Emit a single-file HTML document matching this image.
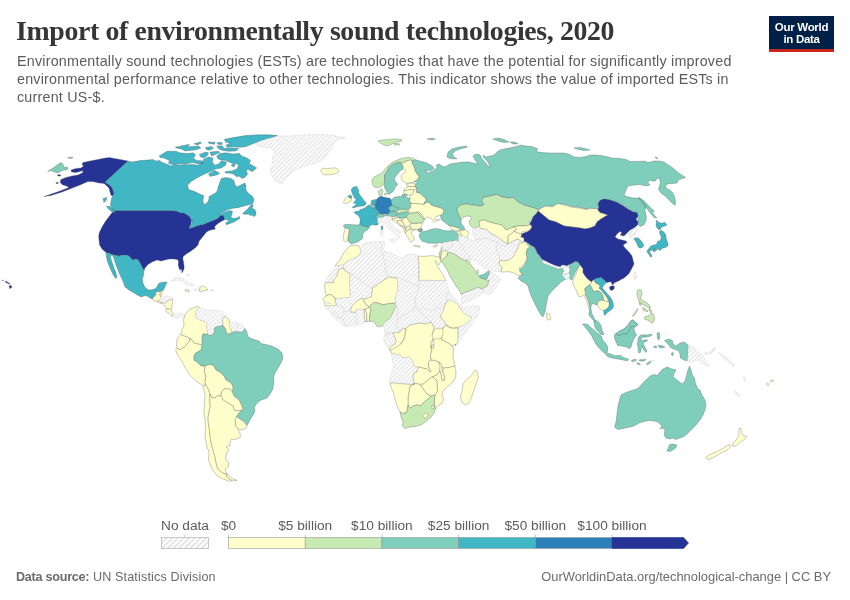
<!DOCTYPE html>
<html lang="en">
<head>
<meta charset="utf-8">
<title>Import of environmentally sound technologies, 2020</title>
<style>
html,body{margin:0;padding:0;background:#fff;}
body{width:850px;height:600px;position:relative;overflow:hidden;font-family:"Liberation Sans",sans-serif;}
#title{position:absolute;left:16px;top:15px;margin:0;font-family:"Liberation Serif",serif;font-weight:bold;font-size:27.8px;line-height:32px;color:#363636;white-space:nowrap;letter-spacing:-0.35px;}
#subtitle{position:absolute;left:17px;top:52px;margin:0;font-size:14.3px;line-height:18px;color:#5b5b5b;white-space:nowrap;letter-spacing:0.22px;}
#logo{position:absolute;left:769px;top:16px;width:65px;height:36px;background:#002147;border-bottom:0;box-sizing:border-box;color:#fff;text-align:center;font-weight:bold;font-size:11.5px;line-height:12px;padding-top:5px;letter-spacing:-0.3px;}
#logo:after{content:"";position:absolute;left:0;right:0;bottom:0;height:3px;background:#c8251d;}
#src{position:absolute;left:16px;top:568.5px;font-size:12.6px;line-height:16px;color:#6b6b6b;white-space:nowrap;letter-spacing:0.14px;}
#src b{font-weight:bold;letter-spacing:-0.25px;}
#url{position:absolute;right:19px;top:568.5px;font-size:12.9px;line-height:16px;color:#6b6b6b;white-space:nowrap;}
#map{position:absolute;left:0;top:0;}
#map text{font-family:"Liberation Sans",sans-serif;font-size:13.7px;fill:#5b5b5b;}
</style>
</head>
<body>
<h1 id="title">Import of environmentally sound technologies, 2020</h1>
<p id="subtitle">Environmentally sound technologies (ESTs) are technologies that have the potential for significantly improved<br>environmental performance relative to other technologies. This indicator shows the value of imported ESTs in<br>current US-$.</p>
<div id="logo">Our World<br>in Data</div>
<svg id="map" width="850" height="600" viewBox="0 0 850 600">
<defs><pattern id="hatch" patternUnits="userSpaceOnUse" width="8.9" height="8.9"><rect width="8.9" height="8.9" fill="#fff"/><path d="M-1,1L1,-1M-1,5.45L5.45,-1M-1,9.9L9.9,-1M3.45,9.9L9.9,3.45M7.9,9.9L9.9,7.9" stroke="#e5e5e5" stroke-width="1.4" fill="none"/></pattern><pattern id="hatch2" patternUnits="userSpaceOnUse" x="161.5" y="537.5" width="11.32" height="11.32"><rect width="11.32" height="11.32" fill="#fff"/><path d="M-1,1L1,-1M-1,6.66L6.66,-1M-1,12.32L12.32,-1M4.66,12.32L12.32,4.66M10.32,12.32L12.32,10.32" stroke="#dcdcdc" stroke-width="1.5" fill="none"/></pattern></defs>
<g stroke="#4a4a4a" stroke-width="0.3" stroke-linejoin="round">
<path aria-label="Russia" fill="#7fcdbb" d="M47.6,171.4L52.4,168.6L60.6,162.6L63,164L63.6,167L68,167.4L67.6,169.4L62,170.6L58,173L54.4,172L51,170.6ZM67.6,158L70,157L73,157.4L71,158.6ZM414.8,159.5L418,160.5L422,161.5L427,163L432,166L434.4,168.6L431,170.6L427.6,170.6L425,170L428,173L433,171L437,168L436.4,165L439,164L442,166L445,167L450,164L456,163L463,162L469,162L473,163L478,164L475,160L473,156L476,154L480,155L482,159L485,162L488,166L490,167.4L489,164L487,161L484,158L483,155L486,157L490,156L494,155L497,152L500,150L506,148.6L512,147.4L518,146L521,145L526,146L532,146.6L538,149L536,151.4L542,152.6L550,153L558,153L564,153L570,154.6L574,157L580,157.4L586,156.6L590,155L596,155L604,156L612,158L620,158.6L626,159.4L630,161.4L638,161.4L645,161L648,162.6L654,161L660,161L665,162.6L669,165.4L673,168L677,171.4L680,174L685.6,177.4L682,178.6L678,180L677,183L673,183.4L668,184L665.6,185L666,188L669,189.4L672,192L674,195L675,199L675.6,202L675,205.4L672,203L669,200L665,196L661,193L658.4,189L659.6,186L660.4,182L659,178.6L657,178L655.6,181L652,181L649,180L648,183L650,185L646,186L640,184.6L634,185L628,186L626,190L624,195L627,196.6L633,198L639,198L642.4,201L646,206L645,211L646.4,216L646,221L643.6,225L640,226.6L637.6,224L638,219L637,214L634,212L631,213L630,209L626,207L622,204L616,202L610,200L604,199.4L600,201L598,205L599,208L597.6,210.6L595,209L590,208L586,209L580,207.4L572,206.6L565,204.6L559,203.4L557,206.6L550,206L544,208L539.6,210.6L537,209L531,207L524,205L518,202L513,197.4L508,198L502,197L497,194.4L490,196L483,197.4L482,201L484,205L480,206L473,205L466,204L460,205L457,209L458,213L460,217L461,220L461.2,223.5L462.8,225.5L464.5,228L465,229.5L462.5,230.5L460.5,229.5L458,228L455,227L452,226.2L449,225.5L447.5,224.5L445.5,223L443,221L441,219.5L441,217.5L440,215.5L442,214.5L443.8,212L443,209L440.5,208L437,207L433.5,206L430.5,204.5L429.5,202.5L426.5,202.5L423.5,204.5L424,202.5L425.5,201.5L426.2,199.5L424.5,197.5L422,195L419,193L416.5,192.5L416.5,188.5L415,186.5L415.5,184L417,182.5L416,181.5L413.5,182L416,180.5L418,178.5L419,176.5L417,174L415,171L414.5,168.5L413.5,166L412.2,163L411.8,160.5L413.5,160.8ZM447,157L448,152L452,149L459,147L467,146L466.4,147.4L460,149L455,151L452.4,154L454,157L457,158.6L453,159L449,158ZM427,139L431,138.2L435.6,139L432,140ZM493,139L498,138L504,139.4L509,142L504,142.6L498,141ZM510,142L515,142L518,144L513,144ZM574,148L580,147.4L587,149L590,150L584,150.6L578,149.4ZM639,197.4L643,200L647,204L651,208L654.4,211.4L652,212L655,216L657,218L654,217.4L651,214L648,210L645,206L641.6,202ZM655,157L657,157.4L658,158.6L656,158.2ZM402,195.8L402.5,194.5L404,194L406,194L407.5,195.5L405.5,196.5Z"/>
<path aria-label="United States" fill="#253494" d="M128,161L120,159.4L109,157.6L104,158.2L98,159.4L90,161L83,162.6L82,164.6L83.6,166L81,168L76,168.4L71,170L71.6,172L76,172.6L80,171.4L82.4,170.6L83,172.6L78,175L72,176L66,177.4L61,179.4L60,182L62,184.6L67,186.2L69,187.4L60,191L50,194.6L44,196.6L51,195.4L62,192L71,188.6L80,185L88,181.4L94,181.8L99,183L104,183.4L107,186L109.2,188.6L110,192L111.2,195.4L113,195.4L114,194L113,190L111.6,187L109,184.6L105,182.2ZM56,182.6L58.4,182.4L58,183.6L56,183.6ZM58,174.6L61,175L60,176.2L57.6,175.8ZM114.4,210.6L172,210.6L178,211.6L184,213L189,216L191.6,220L191,224L189,228L193,227.5L198,225.5L203,224.5L208,222.5L213,220.5L217.5,218.5L220,216L223,215L224,217L224,220L221,221.5L218,223.5L215.5,225.5L214.5,227.5L215.5,229L212,229.8L209,230.5L206.5,232L204.5,234.5L202.5,237L200.5,239.5L199.2,241L198,245L195,248L191,251L187,253.6L183.6,256L183,257L182.8,259L183.5,261.8L183.9,264.7L184.2,267.5L183.7,269.6L182.8,271.8L181.8,272.8L181.1,272.1L179.6,269.6L178.6,266.8L178.2,264.3L178.6,261.9L177.9,259.8L174,259L169,259L165,260L161,261L157,260L152,262L148,264.4L145,268L144,270.4L142,267L140,263L138,259.6L135,259L132.4,260L130,257L127,255L123,255L119,256L114,255L109.6,253.6L106,252.4L102,249L99.6,245L99,240L98.6,236L99.6,232L102,227L105,222L108,218L111,214L113.6,211ZM9.2,285.8L10.5,285.2L12,286.5L11.2,288L9.5,288.5ZM5,281.2L6.5,281.5L8,282.5L9.8,283.5L9.5,284.2L7.5,283.2L5.5,282.2ZM2,280L3.5,280.2L3,280.8Z"/>
<path aria-label="Canada" fill="#41b6c4" d="M128,161L132,162L140,160.6L148,160L153,159.4L156,161L160,160.6L161,161.9L167.8,164.4L170.1,165.7L177.6,165L185.1,164.7L192.7,164.4L197.9,165.3L201.7,163.4L203.9,158.9L208.5,156.9L213,158.1L212.2,161.9L214.9,165.2L219,163.7L221.3,160.8L226.5,161.9L225.5,165.3L221.3,167.9L215.2,169L211.5,170.9L204.7,173.9L197.2,177.7L191.1,181.5L187.4,185.2L188.9,189.7L194.2,191.3L200.2,194.3L203.9,195.8L203.2,198L202.8,201.5L204.5,204.5L207,203L208.8,200L209,196.5L212,195L215.5,193L217.5,190.5L218,187.5L219.8,182.2L221.3,178.5L225.8,177.4L231.1,178.5L234.1,180.7L234.8,184.5L237.1,187L241.6,184.5L245.1,183L246.1,187.5L245,185L245.5,188L246.5,191L249,194L251.5,195.5L253.5,198L254,200.5L252.5,203.5L250,204.5L246,205.5L242,206.5L238,207.8L233,208.2L228,209.5L223,212L219,215.5L220.5,214.8L223,213L227,211.2L230.5,210.5L232.5,211.5L232,214L231,216.5L232,218L235,218.5L237.5,217.5L239.5,216.5L239.8,218.5L237.5,220L234,222L230,223.5L226.5,224.7L225.5,223.5L227,222L229,220.5L227,219.5L224,220L224,217L223,215L220,216L217.5,218.5L213,220.5L208,222.5L203,224.5L198,225.5L193,227.5L188.5,229L190.5,226L192.2,222.5L191.8,219.5L189.5,216.5L187,214.5L184,212.8L180,213L177,211L170,210.6L114.4,210.6L112,208L110.4,205L111,201L112,197L113,195.4L114,194L113,190L111.6,187L109,184.6L105,182.2ZM103,198.6L107,197.4L106,200.6L104,202.6ZM106.4,206L110,206.6L114,210L115,213L112,212L108,208.6ZM242.5,213.5L245,211.5L248,208.5L250.5,205.5L252.5,204L253,206L252,208L254.5,209.5L256,212L255.8,215L254,216.8L252.5,215L250,215.5L249,214L246,214.3L244,214.2ZM159.2,155.9L167,151.3L176.1,151.3L179.8,152.8L187.4,153.6L193.4,152.8L195.7,155.1L193.4,158.1L196.4,160.4L201.7,160.8L203.2,163.4L198.7,164.1L192.7,162.6L185.1,164.1L179.1,163.8L174.6,164.9L168.6,163.4L169.3,160.4L164,158.1L160.3,157.4ZM175.3,147.3L182.1,145.8L189.6,144.3L187.4,146.8L192.7,146.4L198.7,146.1L200.9,148.3L195.7,149.8L189.6,150.6L185.1,150.9L181.4,149.1L176.1,147.9ZM193.9,143.8L200.2,142L201.7,143.1L197.2,144.9ZM207.7,141.9L215.2,142.3L214.5,144.3L209.2,143.5ZM205.5,147.6L211.5,146.4L213.7,148.3L209.2,150.3L206.2,149.4ZM216.7,142.8L221.3,142.3L222.8,144.3L218.3,144.6ZM224.3,139.3L234.8,137.3L245.4,135.5L257.4,134.8L269.5,134.8L277.7,135.5L271,137.8L263.4,140L257.4,141.9L252.9,143.8L245.4,146.8L239.3,147.3L233.3,146.8L227.3,147.3L225.8,145.3L230.3,143.1L225.8,142.3ZM216.7,146.1L222,145.8L224.3,148.3L230.3,147.9L238.6,148.3L236.3,150.9L228.8,151.3L222.8,150.6L219,149.1ZM216.7,155.9L219.8,153.6L225.8,152.8L233.3,153.9L239.3,153.3L241.6,155.9L246.9,158.1L250.6,160.4L249.1,163.4L252.9,165.7L256.7,167.9L252.1,171.7L248.4,169.4L246.1,170.2L247.6,173.9L245.4,176.9L242.3,178.5L239.3,176.2L236.3,176.5L233.3,173.9L230.3,173.2L225,172.9L225.8,171.4L231.8,170.9L237.1,168.7L238.6,165.7L236.3,163.4L232.6,163.4L228.8,161.9L225.8,160.4L221.3,159.9L218,158.9ZM199.4,154.4L205.5,152.1L208.5,152.8L207,155.9L203.2,158.1L200.2,156.6ZM210,152.1L218.3,151.3L219.8,152.4L214.5,154.8L211.5,155.9ZM208.5,173.9L214.5,170.2L219.8,173.2L216.7,175L212.2,175.9L210,176.5ZM231.1,165.3L234.1,163.8L235.6,165.3L233.3,166.9Z"/>
<path aria-label="Mexico" fill="#41b6c4" d="M106,252.4L109.6,253.6L114,255L119,256L123,255L127,255L130,257L132.4,260L135,259L138,259.6L140,263L142,267L144,270.4L143.6,275L142.2,279L143,283L144.5,286.5L146.5,288.8L149,290L152,289.8L155,288.8L157,287L158,284.5L159.5,283L162.5,282.2L167,282L166.2,284L165,286.5L164,289L162.8,290.2L161.8,291L160.5,291.5L159.5,291.5L156.5,292L155,293L156.2,294.5L155,295.5L153.5,297.5L152.2,299L150,298L148,296.5L145,295.5L142,296.8L140,296.5L134,293L129,290L125,287L123.6,283L122,279L120,275L118,270L116,265L114.4,260L113,256L111,255L110.4,257L111.6,261L113,265L114.4,269L116,273L117,277L115.6,278.4L113.6,275.6L111.6,271.6L109.6,267L107.6,262L106.4,257Z"/>
<path aria-label="Belize" fill="#ffffcc" d="M162.8,290.2L161.8,291L160.5,291.5L160,293.5L159.8,295.5L160.5,296.5L161.5,295L162.2,293L162.8,291.5Z"/>
<path aria-label="Guatemala" fill="#ffffcc" d="M155,293L156.5,292L159.5,291.5L160,293.5L159.8,295.5L160.5,296.5L161.5,297.2L160,299.2L159,300.8L157.2,301.5L155,301.2L153,300L152.2,299L153.5,297.5L155,295.5L156.2,294.5Z"/>
<path aria-label="Honduras" fill="url(#hatch)" stroke="#c4c4c4" d="M161.5,297.2L164,296.2L168,296L171.5,297.2L172.8,299L170,300L168,301.2L166,302.5L164.5,304L163,303.5L162.5,302.2L160.5,302.5L159,300.8L160,299.2Z"/>
<path aria-label="El Salvador" fill="#ffffcc" d="M157.2,301.5L159,300.8L160.5,302.5L162.5,302.2L163,303.5L161.5,303.8L159.5,303L158,302.2Z"/>
<path aria-label="Nicaragua" fill="#ffffcc" d="M164.5,304L166,302.5L168,301.2L170,300L172.8,299L172.5,302L172,305L171.8,308L171,309.5L168.5,309L166.5,308.7L165,306.5L163.5,305Z"/>
<path aria-label="Costa Rica" fill="#ffffcc" d="M166.5,308.7L168.5,309L171,309.5L171.8,311.5L172.8,313.5L172.8,316L171.5,316.5L170.5,314.5L169,313L167,312.2L165.8,310.5Z"/>
<path aria-label="Panama" fill="url(#hatch)" stroke="#c4c4c4" d="M172.8,313.5L174.5,314.5L177,314L180,312.8L182.5,313.2L184.8,315L184.5,317L183.5,318.5L182.5,316.8L180.5,316L178.5,317.5L177.2,319L175.5,318.2L174,317L172.8,316Z"/>
<path aria-label="Cuba" fill="url(#hatch)" stroke="#c4c4c4" d="M171.2,280L174,278L178,277.2L182,278L185,280L188,282L191,283.5L194.5,284.8L194,285.8L191,285.8L188,285.5L187,284L184,282.5L181,281L178,280L174.5,280.5L172,281.2Z"/>
<path aria-label="Jamaica" fill="#ffffcc" d="M184.8,290L186.5,289.2L189,290L189.8,291.2L188,291.8L185.8,291.2Z"/>
<path aria-label="Haiti" fill="url(#hatch)" stroke="#c4c4c4" d="M194,289L197,288.8L199.8,287.5L199.8,291.5L197,291L194.5,290.8Z"/>
<path aria-label="Dominican Republic" fill="#ffffcc" d="M199.8,287.5L202.5,285.8L205,287L207,288.8L208,290L205.5,290.5L203,290.8L200.5,292L199.8,291.5Z"/>
<path aria-label="Puerto Rico" fill="url(#hatch)" stroke="#c4c4c4" d="M210,289.5L213.5,289.5L213.8,291L210.2,291Z"/>
<path aria-label="Bahamas" fill="url(#hatch)" stroke="#c4c4c4" d="M187,275L189,274.5L189.5,276L187.8,276.2ZM180,271L181,269L182,271.5L180.8,272.5Z"/>
<path aria-label="Greenland" fill="url(#hatch)" stroke="#c4c4c4" d="M255,144.1L257.4,142.4L262.1,140.6L267.9,138.8L277.4,136.5L287.9,135.9L298.5,135.3L307.9,134.7L318.5,134.5L327.9,134.7L333.8,135.6L339.7,136.8L345.6,137.6L342.1,138.8L337.4,139.6L335,141.8L333.2,144.7L332.6,147.6L330.3,150.6L327.4,153.5L325.6,157.1L322.1,159.4L319.1,161.8L315,163.5L310.3,164.7L305.6,165.9L300.9,167.6L296.2,169.4L292.6,171.2L289.7,174.1L286.8,177.6L284.4,181.2L282.1,183.5L278.5,182.4L275,180.6L272.6,177.1L271.5,173.5L270.3,170L270.9,166.5L272.6,163.5L272.1,160L272.6,156.5L274.4,153.5L273.2,150.6L271.5,148.2L266.8,147.6L262.1,147.1L257.4,145.9Z"/>
<path aria-label="Iceland" fill="#ffffcc" d="M320.9,170L322.6,168.2L326.8,168.8L330.3,168.2L335,167.9L338.3,169.4L338.8,171.4L336.2,173.3L332.6,174.5L327.9,174.9L323.8,174.5L321.8,172.6Z"/>
<path aria-label="Colombia" fill="#ffffcc" d="M185,315L189,309.6L194,307.6L198,306L199.6,307.6L197,310L195.6,313.6L196.4,318L200,320L205,321.6L207,324L206.6,328L207.6,331.6L208,334.4L203,334L202,338L202.4,343L201.6,345.6L200,344.4L197,344L194,343L191,339L187,337L183,335.6L181,334.4L182,330L184,325L183.6,320L184.4,317Z"/>
<path aria-label="Venezuela" fill="url(#hatch)" stroke="#c4c4c4" d="M199.6,307.6L204,309L210,310.4L217,310L222.4,311L225,316L222.4,319.6L223,323L223,325.6L220,326L216,327L214.4,328L214.4,332L212,335L209,335.6L208,334.4L207.6,331.6L206.6,328L207,324L205,321.6L200,320L196.4,318L195.6,313.6L197,310Z"/>
<path aria-label="Guyana" fill="#ffffcc" d="M225,316L228,319L230,322L229.6,325L231.6,330L232,333L228,334.4L226,332L225,328.4L223,325.6L223,323L222.4,319.6Z"/>
<path aria-label="Suriname" fill="url(#hatch)" stroke="#c4c4c4" d="M230,322L234,322.4L238,323L237.6,327L236,331.6L233,332L231.6,330L229.6,325Z"/>
<path aria-label="French Guiana" fill="url(#hatch)" stroke="#c4c4c4" d="M238,323L242,325L245,328.4L242.4,332L239,332L236,331.6L237.6,327Z"/>
<path aria-label="Brazil" fill="#7fcdbb" d="M214.4,328L216,327L220,326L223,325.6L225,328.4L226,332L228,334.4L232,333L233,332L236,331.6L239,332L242.4,332L245,328.4L247,332L247.6,336L250,338L254,339.6L259,341L261,343.6L266,344.4L272,346L278,349L282,353L283,358L281,363L278,368L275,373L273.6,377L274,382L273,388L272.4,390L270,394L267,398L261,400L257,403L254.4,407L255,411L253,415L250,420L247,425.6L244.4,422L240,419L236.4,416.4L239,413L242,410L243,409L241,404L239,400L234,396L232.4,392L233,387L231,383L226,380L224,376L221,373L216,370L213,365L209,364.4L205,366L201,366L198,363L194,360L193.6,357L195,353.6L198,351.6L201,350L202,346L201.6,345.6L202.4,343L202,338L203,334L208,334.4L209,335.6L212,335L214.4,332Z"/>
<path aria-label="Ecuador" fill="#ffffcc" d="M181,334.4L183,335.6L187,337L190,339L189,342L186,345L183,348L180,350L177,348L176.4,344L177,340L178,337Z"/>
<path aria-label="Peru" fill="#ffffcc" d="M177,348L180,350L183,348L186,345L189,342L190,339L191,339L194,343L197,344L200,344.4L201.6,345.6L202,346L201,350L198,351.6L195,353.6L193.6,357L194,360L198,363L201,366L205,366L204.4,371L206,376L205,381L205.6,385L203,385.6L199,383L194,379L189,374L185,367L181,360L177,354L175.6,350Z"/>
<path aria-label="Bolivia" fill="#ffffcc" d="M205,366L209,364.4L213,365L216,370L221,373L224,376L226,380L231,383L233,387L232.4,392L230,389L224,389L221.6,392L221,396L218,395.6L215,397.6L212,398L210,394L208,389L205.6,385L205,381L206,376L204.4,371Z"/>
<path aria-label="Paraguay" fill="#ffffcc" d="M221.6,392L224,389L230,389L232.4,392L234,396L239,400L241,404L243,409L242,410L239,411L234,410L233,406L228,403L223,400L221,396Z"/>
<path aria-label="Uruguay" fill="#ffffcc" d="M236.4,416.4L240,419L244.4,422L247,425.6L245.6,428.4L242,429.6L238,429L235.6,426L235,421Z"/>
<path aria-label="Chile" fill="#ffffcc" d="M203,385.6L205.6,385L208,389L210,394L209.6,400L210.4,406L209,412L208,418L208.4,424L209.6,430L210,436L211,442L212.4,448L213.6,452L215,457L216,462L217,467L219,470L222,472.4L226.6,474L226.6,476L228.4,478.4L232,480.4L230,481.6L224,479.4L218,476.4L215,473L212,469L210,464L208.4,459L209,454L208.4,450L207,448L206,442L205,436L205.6,428L205,420L204,412L204.4,404L205,396L204,390L203.6,388Z"/>
<path aria-label="Argentina" fill="#ffffcc" d="M210,394L212,398L215,397.6L218,395.6L221,396L223,400L228,403L233,406L234,410L239,411L242,410L239,413L236.4,416.4L235,421L235.6,426L238,429L240,433L240.4,437L237,439L231,439.6L230,443L229.6,446L226,447L229,449.6L227,453L225.6,457L226,460L229,463L228,467L225,469L226,472L226.6,474L222,472.4L219,470L217,467L216,462L215,457L213.6,452L212.4,448L211,442L210,436L209.6,430L208.4,424L208,418L209,412L210.4,406L209.6,400ZM226.6,474L228,474L230,477L233.6,479L237,480.4L232,480.4L228.4,478.4L226.6,476Z"/>
<path aria-label="Norway" fill="#c7e9b4" d="M372,179.5L374,177L378,175L382,173L384,170.5L386,168L389,165L392,162.5L396,160.5L400,159L404,157.8L409,157.5L413,158.2L414.8,159.5L413.5,160.8L411.8,160.5L410,160L407,161L404,162.5L401,163L398.5,162.2L397,162.8L394,164L391,165.5L389,167.5L387.5,170.5L386,173L384.5,175L384.5,178.5L385,181L384,184L382.5,185.5L380,187L377,187.8L374.5,187.2L372.5,184.5L372,182ZM378,141L383,140L390,139.4L396,139L401.6,139.4L401,141.4L396,142L392,144L388,146L384,145L381,143.4ZM394,143.6L399,143.4L399.6,145L395,145.2Z"/>
<path aria-label="Sweden" fill="#7fcdbb" d="M397,162.8L398.5,162.2L401,163L402.5,165L403.2,167.5L402.8,169.5L400.5,170.5L398,173.5L396,176L394.5,178.5L394.8,181L397,183L397.5,185L395.5,186.5L394.5,189L393,191.5L391,193L389,194.5L387.8,193.8L387,192L385.5,189.5L384.5,187L384,184L385,181L384.5,178.5L384.5,175L386,173L387.5,170.5L389,167.5L391,165.5L394,164Z"/>
<path aria-label="Finland" fill="#ffffcc" d="M404,162.5L407,161L410,160L411.8,160.5L412.2,163L413.5,166L414.5,168.5L415,171L417,174L419,176.5L418,178.5L416,180.5L413.5,182L410,183L406.5,183.2L404,182L402,180L401,177.5L401.5,175L404,173L406,171L405,169.5L403.2,167.5L402.5,165L401,163Z"/>
<path aria-label="Denmark" fill="#c7e9b4" d="M378.5,191L380,189.5L382,189L382.8,190L382.5,192.5L382,195L380.5,196L379,195L378.5,193ZM384.5,193.5L386.2,193L386.8,194.5L385.5,195.5L384.5,194.8Z"/>
<path aria-label="Estonia" fill="#ffffcc" d="M406.5,184L410,183.5L413.5,183L415.5,184L415,186.5L412,186.5L409,186.2L406.8,185.8Z"/>
<path aria-label="Latvia" fill="#ffffcc" d="M404,189.5L406.5,187.5L409,186.5L412,186.5L415,186.5L416.5,188.5L414.5,190L411.5,189.5L409,190L406,190.5L404,191Z"/>
<path aria-label="Lithuania" fill="#ffffcc" d="M403.5,192.5L404,191L406,190.5L409,190L411.5,189.5L414.5,190L413.5,192.5L412,194.5L410,195.5L408,195L406,194L404,194Z"/>
<path aria-label="Ireland" fill="#ffffcc" d="M343.5,202.5L344.5,199.5L347,197L348.5,195.8L348.8,197.2L350,198.2L351.5,197.8L351.5,200L350.5,201.8L348,202.8L345.5,203.5Z"/>
<path aria-label="United Kingdom" fill="#41b6c4" d="M348.5,195.8L350.5,195L351.8,196L351.5,197.8L350,198.2L348.8,197.2ZM353.5,187L356.5,186.5L358,187.8L357,189.2L359,190L358.5,192.5L359.5,194.5L361.5,197L363.2,199.5L365,201.5L366.2,203L365.5,204.8L363.5,206L360,206.2L357,206.8L354,207.8L352,207.5L354,206L356.5,204.8L355,203.5L353.5,202.8L355,201.2L356,199.5L354.5,198L353.5,196L352.5,194L351.8,192L351.2,190L352,188.2Z"/>
<path aria-label="France" fill="#41b6c4" d="M354,212.2L356.5,211.2L359.5,211L360,209.5L362.5,209L365,207.8L367.2,206L368.5,205.5L370,206.5L372.2,207.8L374.5,208.5L376,209L378.2,210.5L379,212.5L378.2,214.5L376.5,215.5L375.8,217L377,218.5L378,220L377.5,222L378.8,223.5L377.5,225L375,225.2L373,224.5L371,225L369.5,226.5L368,227.2L365,226.5L362,225.8L359.5,225L360,222L360.2,219L359,216.5L357,214.5L355,213.5ZM381,226.5L382.5,225.8L383,228L382.5,229.8L381.2,229.5Z"/>
<path aria-label="Belgium" fill="#7fcdbb" d="M368.5,205.5L370,204.8L372.2,204.2L374.5,205L375.5,206.5L375,208.2L374.5,208.5L372.2,207.8L370,206.5Z"/>
<path aria-label="Netherlands" fill="#41b6c4" d="M371,201L373,200L376.2,199.5L376.5,201L376,203L375,205L374.5,205L372.2,204.2L370.8,204L371.5,202.5Z"/>
<path aria-label="Germany" fill="#2c7fb8" d="M376.5,199.5L379,197L381.5,196.2L384,197.2L387,197.8L390,198.2L391,200L391.5,202.5L392,205L390.5,206.5L388,207.8L389.5,209.5L390,211L389,213.5L386,214L383,214.2L380.5,213.8L379,213.5L379,212.5L378.2,210.5L376,209L375,208.2L375.5,206.5L375,205L376,203L376.5,201Z"/>
<path aria-label="Luxembourg" fill="#ffffcc" d="M374.5,208L375.3,207.8L375.6,208.8L374.8,209Z"/>
<path aria-label="Switzerland" fill="#7fcdbb" d="M375.8,215.8L377.5,215L379,213.8L380.5,214L383,214.5L384.2,215.5L383.5,217L381.5,217.8L379.5,217.5L378,218.5L377,218.5L376,217.2Z"/>
<path aria-label="Austria" fill="#7fcdbb" d="M384.2,215.5L386,214.2L389,213.8L390,211.2L393,211L396,211.8L397.5,213.5L396.8,215.5L394.5,216.5L391.5,216.8L389,216.2L386.5,216.2L384.5,216.2Z"/>
<path aria-label="Czechia" fill="#7fcdbb" d="M388,207.8L390.5,206.5L392,205.2L394,206.2L396.5,207.2L399.5,208.2L399,209.5L397,210.5L396,211.8L393,211L390,211L389.5,209.5Z"/>
<path aria-label="Poland" fill="#7fcdbb" d="M391,200L394,197.5L398,196.5L402,196.2L405,197L410,198.5L410.2,201L411.2,203.5L411.5,206L410,208.5L406.5,209.5L404,209.2L401.5,209.5L399.5,208.2L396.5,207.2L394,206.2L392,205.2L391.5,202.5Z"/>
<path aria-label="Slovakia" fill="#c7e9b4" d="M397,210.5L399,209.5L401.5,209.5L404,209.2L406.5,209.5L408.5,210.5L407.5,212L405,212.2L402,212.8L399.5,213.5L397.5,213.5L396,211.8Z"/>
<path aria-label="Hungary" fill="#7fcdbb" d="M397.5,213.5L399.5,213.5L402,212.8L405,212.2L407.5,212L409,213.2L408.5,215.2L406.5,217L404,218L401,218.5L398.5,217.5L396.8,215.8Z"/>
<path aria-label="Slovenia" fill="#ffffcc" d="M391.5,217L394.5,216.5L396.5,216.2L396,218L394,219L392,218.8Z"/>
<path aria-label="Croatia" fill="#ffffcc" d="M392,219L394,219L396,218L398.5,217.8L401,218.8L402.5,220L401.5,221L399,220.5L397,220.8L398,222.5L400,224.5L402,226.5L400.5,226.2L398,224.5L396,222.5L394.5,221L392.5,220.5Z"/>
<path aria-label="Bosnia and Herzegovina" fill="#ffffcc" d="M397,220.8L399,220.5L401.5,221L403,222L404,224L403,225.8L401.8,226.2L400,224.5L398,222.5Z"/>
<path aria-label="Serbia" fill="#ffffcc" d="M402.5,220L404,218.2L406.5,217.2L408,219L409.5,221L410.5,223L409.5,225L408.5,226.5L406.5,227L405,225.5L404,224L403,222L401.5,221Z"/>
<path aria-label="Montenegro" fill="#ffffcc" d="M401.8,226.2L403,225.8L404.5,226.5L404,228.5L402.8,228Z"/>
<path aria-label="Kosovo" fill="#ffffcc" d="M404.5,226.5L405,225.8L406.5,227L406,228.5L404.8,228L404,228.5Z"/>
<path aria-label="Albania" fill="#ffffcc" d="M404,228.5L404.8,228L406,229L406.2,231L405.5,233L404.2,232L403.8,230Z"/>
<path aria-label="North Macedonia" fill="#ffffcc" d="M406,228.5L406.5,227L408.5,226.8L410.5,227.5L410.2,229.5L408,230.2L406.2,230.5Z"/>
<path aria-label="Greece" fill="#ffffcc" d="M405.5,233.2L406.2,231L408,230.2L410.2,229.5L413,229L415.5,228.5L418,228.8L419,229.5L417,230L415,230L412.5,231L411,232L411.5,234L413,236L414.5,238L414,240L412.5,240.5L411.5,242.5L410,241.5L409,239L407.5,237L406.2,235ZM414,245L417,245.5L420,246.2L420,247L416.5,246.8L414,246Z"/>
<path aria-label="Italy" fill="url(#hatch)" stroke="#c4c4c4" d="M378,220L377,218.5L378,218.5L379.5,217.5L381.5,217.8L383.5,217L384.5,216.2L386.5,216.2L389,216.2L391.5,216.8L392,218.8L390.5,219.5L389.5,221L390.5,223L392.5,225.5L394.5,227.5L397,229.5L400,231L401.5,232.5L400.5,233.5L399,232.8L398,234L399.5,236L399,238L397.5,239.5L396.5,238L397,236L395.5,234L393.5,232.5L391,230.5L388.5,228.5L386.5,226L385,223.5L383,222L380.5,221.8L378.8,223.5L377.5,222ZM389.5,239.5L392,239L395,238.2L396,240L395,242L393,242.5L390.5,241ZM380.5,231L382.5,230.5L383,233L382.8,235.5L381,236L380.5,233.5Z"/>
<path aria-label="Spain" fill="#7fcdbb" d="M343.5,225.2L346,224.2L350,224.5L354,224.8L359.5,225L362,225.8L365,226.5L368,227.2L369.5,227.8L368,229.5L365.5,231L363.5,233L362.5,235.5L363,237.5L361.5,239.5L359,241L356.5,242.5L354,243L351.5,244L350,243L348.5,241.5L347.8,239L348.2,236L348.8,233L349.2,230L348,228.5L345,228L343.8,226.8Z"/>
<path aria-label="Portugal" fill="#ffffcc" d="M345,228L348,228.5L349.2,230L348.8,233L348.2,236L347.8,239L347.5,241L345,241.5L343.5,240.5L343.8,238L343,235.5L344,233L344.8,230.5Z"/>
<path aria-label="Belarus" fill="#ffffcc" d="M410,198.5L410,195.5L412,194.5L413.5,192.5L414.5,190L416.5,188.5L416.5,192.5L419,193L422,195L424.5,197.5L426.2,199.5L425.5,201.5L424,202.5L423.5,204.5L420,204L416,203.5L411.5,203.5L409.5,201Z"/>
<path aria-label="Ukraine" fill="#ffffcc" d="M411.5,203.5L416,203.5L420,204L423.5,204.5L426.5,202.5L429.5,202.5L430.5,204.5L433.5,206L437,207L440.5,208L443,209L443.8,212L442,214.5L440,215.5L438,216L435.5,216.8L434.5,218L435,219.2L437.5,219.6L439.8,219.8L438,220.5L436,221.2L434.5,222L433,221L432,219L430,217.8L428,217L426.2,217.8L425,219.2L424.5,219L423.5,217.8L422.5,215.5L420.5,213.5L418.5,212L416.5,212.2L414,213L411,212.8L408.8,212L408.5,210L409.8,208.5L410.8,206.5L410.5,205Z"/>
<path aria-label="Moldova" fill="#ffffcc" d="M418.5,212L420.5,213.5L422.5,215.5L423.5,217.8L424.5,219L423,219.2L421.8,217.5L420.5,215.5L419,214L417.5,212.5Z"/>
<path aria-label="Romania" fill="#c7e9b4" d="M408.5,214L411,213L414,213.2L416.5,212.2L417.5,212.5L419,214L420.5,215.5L421.8,217.5L423,219.2L424.5,219.2L424,221L422.5,222.5L420,223L417,223.2L414,223.5L411.5,223L409.5,221.5L408,219.5L406.5,217.5L407,215.5Z"/>
<path aria-label="Bulgaria" fill="#ffffcc" d="M411,223.5L414,223.7L417,223.4L420,223.2L422.5,222.8L422,225L421,227L421.5,228.5L419,229L416.5,229.5L414,229L412,229.5L410.8,227.5L410.5,225.5Z"/>
<path aria-label="Turkey" fill="#7fcdbb" d="M419,229.2L421.5,228.7L422.5,230L421.5,231.5L419.5,232L418.5,230.8ZM419.5,234L421,232.5L424,231.5L428,230.5L432,229L436,228.5L440,229.2L444,230.5L448,231L451.5,230.2L455,231.5L457,232.5L458,234.5L458.5,237L459,239.5L458.5,241L456,240.5L453,241L450,241.5L447,242L444,242.5L441.5,243.5L440.5,242.5L438,243L435,243.5L432,243L429,243.5L427,242.5L425,242L423,241.5L421,240L420,238L419.2,236ZM418.5,230L420,228.8L422,229.2L422.5,230.8L421,231.8L419,232Z"/>
<path aria-label="Georgia" fill="#ffffcc" d="M449,225.5L452,226.2L455,227L458,228L460.5,229.5L460,231L457.5,231L455,230.5L452.5,229.5L450.5,228Z"/>
<path aria-label="Armenia" fill="#ffffcc" d="M456,231L457.5,231L458.5,231.2L460.5,233L461.5,235L460,235.5L458,234L456.5,232.5Z"/>
<path aria-label="Azerbaijan" fill="#ffffcc" d="M460,231L462.5,230.5L465,229.5L467,231L469,232.5L468,234.5L467,238L465,237L463,236L461.5,235L460.5,233L458.5,231.2Z"/>
<path aria-label="Kazakhstan" fill="#c7e9b4" d="M457,209L460,205L466,204L473,205L480,206L484,205L482,201L483,197.4L490,196L497,194.4L502,197L508,198L513,197.4L518,202L524,205L531,207L537,209L539.6,210.6L538,214L533,216L532,220L529,221L530,225L525,226L518,226L513,227L509,229L506,230L502,225L497,224L493,223L489,222L484,220L479,220.6L480,225L477,228L473,228L470,225L469,221L471.6,219L471,216.6L467,216L463,217.4L461,220L460,217L458,213Z"/>
<path aria-label="Mongolia" fill="#ffffcc" d="M538,211L541,208L546,206L552,207L558,203.6L564,205L571,207L578,208L586,209.6L593,208.4L598,209L598,210L600,212.4L604,213.6L608,215L606,216L601,219L597,222L595,226L590,228L585,229L580,228L572,227L564,226L556,222L549,220L543,215Z"/>
<path aria-label="China" fill="#253494" d="M538,211L543,215L549,220L556,222L564,226L572,227L580,228L585,229L590,228L595,226L597,222L601,219L606,216L608,215L604,213.6L600,212.4L598,210L599,207L598,204L600,200.4L604,199L610,200L616,202L622,205L628,209L633,212L637,212.4L638,216L636,219L638,222L637.6,225L634,228L630,230L627,233L624,236L620,235L622,233L620,231.6L617,234L615,237L618,239L622,240L626,241L627,242.4L623,245L625,248L629,252L632,256L633,260L634,264L631,270L629,273.5L626.5,276L624,278L621,279.5L618.5,281L616,282L614,283L613,285L612,284L611,281.8L609,282L607,282.5L605.5,281.5L603.5,279.5L601,277.5L598.5,278L596,278.5L594.5,279.5L593,280L592,282L590,281L587.5,279L585,276L583,273L583,269L580,265L578,262L575,261.6L572,263.6L569,264.4L567,266L562,265L560,267L556,266L551,264L547,262L543,260L541,258L539,255L537,253L536,250L534,247L531,245.6L528,243L524,241L521.6,238L521,235L523.6,233L527,232L530,230L531,227L530,223L532,220L533,217L536,214ZM609.5,287L611,286L613,285.8L614.5,286.5L614.2,288.5L612.8,290L611,290.5L609.8,289.2Z"/>
<path aria-label="India" fill="#7fcdbb" d="M525,246.4L528,243L531,245.6L534,247L536,250L537,253L539,255L541,258L543,260L542,262.4L547,264.4L551,266L556,268L560,269L562,268L564,271L562,273L565,274.4L569,273L570,270L569,267L569,264.4L572,263.6L575,261.6L578,262L580,265L578,268L576,271L574.4,274L573,277L572,280L570,279L568,276L567,278.4L564,280L561,282L559,284L555,288L551,292L548,296L547,301L546,306L545,312L543,317L541,315L538,310L535,304L532,298L529.6,292L528,286L525,283L521,281L518,278L520,276L523,274.4L519,272.4L520,269L523,267L525,264L527,260L526,256L525.6,252L527,249Z"/>
<path aria-label="Nepal" fill="url(#hatch)" stroke="#c4c4c4" d="M543,260L547,262L551,264L556,266L560,267L560,269L556,268L551,266L547,264.4L542,262.4Z"/>
<path aria-label="Bhutan" fill="url(#hatch)" stroke="#c4c4c4" d="M562,265L567,266L568,267.6L565,268.4L562,268Z"/>
<path aria-label="Bangladesh" fill="url(#hatch)" stroke="#c4c4c4" d="M562,273L565,274.4L569,273L569.6,276L569,279L567,280L565,278.4L563,276Z"/>
<path aria-label="Sri Lanka" fill="#ffffcc" d="M546.4,313L549,314L551,318L550,320L547.6,319.6L546.4,316Z"/>
<path aria-label="Iran" fill="url(#hatch)" stroke="#c4c4c4" d="M458.4,237L463,236L467,238L472.4,240L476,240L480,239L486,238L491,240L497,242L496,246L497,250L499,255L500,260L499,264L502,267L501,272L497,271.5L494,271L491,271.5L489,270L487,269L484,268L481,266L479,264L477,262L475,260.5L473,260L471,259.5L469.5,257.5L468,255.5L466,253L464,250.5L462.5,248L461,245.5L459.5,243L458.5,241Z"/>
<path aria-label="Turkmenistan" fill="url(#hatch)" stroke="#c4c4c4" d="M473,227L477,230L480,228.4L486,229L489,232L494,235L499,238L504,242L508,244L505,246L500,245L497,242L491,240L486,238L480,239L476,240L474,236L472.4,232Z"/>
<path aria-label="Afghanistan" fill="url(#hatch)" stroke="#c4c4c4" d="M497,242L500,245L505,246L508,244L511,242L515,240L518,239L521,241L524,242L519,244L518,248L516,252L513,257L509,260L504,261L500,260L499,255L497,250L496,246Z"/>
<path aria-label="Uzbekistan" fill="#ffffcc" d="M479,221L484,220L489,222L493,223L497,224L502,225L506,230L509,229L513,227L518,226L517,229L514,231L511,234L508,236L508,240L508,244L504,242L499,238L494,235L489,232L486,229L480,228.4L479.6,225Z"/>
<path aria-label="Tajikistan" fill="#ffffcc" d="M508,236L511,234L514,231L518,233L522,234L521,237L524,238L524,242L521,241L518,239L515,240L511,242L508,244L508,240Z"/>
<path aria-label="Kyrgyzstan" fill="#ffffcc" d="M513,227L518,226L525,226L530,225L532,226L531,229L527,231L522,232L521,237L522,234L518,233L514,231L517,229Z"/>
<path aria-label="Pakistan" fill="#ffffcc" d="M500,260L504,261L509,260L513,257L516,252L518,248L519,244L524,242L527,244L530,246.4L527,249L526,253L527,258L525,263L522,266L519,268L520,272L523,274L518,275.6L514,273L509,271.6L504,272L501,272L502,267L499,264Z"/>
<path aria-label="Yemen" fill="url(#hatch)" stroke="#c4c4c4" d="M461,294L466,292L472,290L478,287L482,289L484,292L480,295L476,298L471,300.4L466,302.4L462.4,304L461,300Z"/>
<path aria-label="Oman" fill="url(#hatch)" stroke="#c4c4c4" d="M489,280L489.6,276L489.4,272L491,272.4L494,273.4L497,275.4L499.6,277.6L500.4,280.4L498.4,283.6L496.4,287L493.6,290L491,293L488,295L484,292L482,289L487,286L488,284Z"/>
<path aria-label="Cyprus" fill="#ffffcc" d="M433.2,246L435,245.5L437.5,244.8L436.8,246.5L435,247.2L433.5,247Z"/>
<path aria-label="Syria" fill="url(#hatch)" stroke="#c4c4c4" d="M441.5,243.5L444,242.5L447,242L450,241.5L453,241L452.5,243.5L452,246.5L449.5,248.2L447,249.8L444.5,251L442.8,250.5L442,248.5L441.5,246Z"/>
<path aria-label="Lebanon" fill="#ffffcc" d="M441.2,247.5L442.2,247.8L442,249.5L441,250.2Z"/>
<path aria-label="Israel" fill="#c7e9b4" d="M439.8,252L440.8,250.5L441.5,252L441.2,254.5L440.8,257L440.2,259L439.5,256.5L439.2,254Z"/>
<path aria-label="Jordan" fill="#ffffcc" d="M441.5,252L442.8,250.8L444.5,251.2L447,250L448.5,252L446.8,253.5L448,255L446,256.5L444,258.5L442,260.5L440.8,260L440.8,257L441.2,254.5Z"/>
<path aria-label="Iraq" fill="url(#hatch)" stroke="#c4c4c4" d="M453,241L456,240.5L458.5,241L459.5,243L461,245.5L462.5,248L464,250.5L466,253L468,255.5L469.5,257.5L468.5,259.5L466.5,260.5L464,260L461,258.5L458,256.5L455,254.5L452,253L449,252.5L448.5,252L447,250L449.5,248.2L452,246.5L452.5,243.5Z"/>
<path aria-label="Kuwait" fill="#ffffcc" d="M466.5,260.5L468.5,259.5L469.8,260.5L470.2,262.5L468.5,263L467,262Z"/>
<path aria-label="Saudi Arabia" fill="#c7e9b4" d="M442,260.5L444,258.5L446,256.5L448,255L446.8,253.5L448.5,252L449,252.5L452,253L455,254.5L458,256.5L461,258.5L464,260L466.5,260.5L467,262L468.5,263L470.5,264.5L472.5,267L474.5,269.5L476,271.5L477.5,274L479,276L480,277.5L483,278.5L486,279.5L487,281L489,280L488,284L487,286L482,289L478,287L472,290L466,292L461,294L459,290L456,286L453,281L450,276L447,270L444,265L441.2,261.5Z"/>
<path aria-label="Qatar" fill="#ffffcc" d="M476.8,270.5L478.2,270L478.8,272L478,273.5L477,273Z"/>
<path aria-label="United Arab Emirates" fill="#7fcdbb" d="M479,276L481.5,275L484,274L486.5,272.5L488.5,270.5L489.5,271.5L489,274L488,276.5L487,279.2L486,279.5L483,278.5L480,277.5Z"/>
<path aria-label="North Korea" fill="url(#hatch)" stroke="#c4c4c4" d="M628.5,234L630,232L632,230L634.5,228L636.5,226.5L637.5,227.5L637.8,230L636.5,232L635,234L634.5,236L635.5,237.8L634,239.2L632,239L630.5,237.5L630,235Z"/>
<path aria-label="South Korea" fill="#41b6c4" d="M634,239.2L635.5,238L637.5,237.8L639.5,239L641.2,241L642.8,243.2L643.8,245.5L643,247L641,248L639,247.8L637.8,246.2L637,244L636,241.8L634.8,240.2Z"/>
<path aria-label="Japan" fill="#41b6c4" d="M656,220L658,221.5L660,222.8L662,223.2L664.5,222.2L666,223.5L666.8,225L665,226L663,226.5L661.2,227.5L660.5,229.5L659,229.8L657.5,228.5L656.5,227L656,225L656.5,223ZM659.8,231L659.5,233L660.5,235L661.2,237.5L660.8,239.5L659.5,241L657.5,241.2L657.2,243L656,244.5L654,245L651.8,245.5L650,247L648.5,249L646.8,251.2L647.8,252.5L649.5,251.8L651,250.5L653,249.5L654.8,249L656.5,248.5L658,249.2L659.8,250.5L661.2,249.5L662.5,248.2L664.5,247.8L666.5,247L668,245.5L668,243.5L667,241L666.2,238.5L666,236L665,233.5L663.5,231.8L661.5,230.5ZM646.8,251.5L648,251.2L649.8,252.5L651,254L652,256L651.2,257.2L650,256.5L649,254.5L647.8,253ZM652.8,249.7L654.5,249.2L656.5,249.2L657,250L655.5,251L654,252L653,251Z"/>
<path aria-label="Myanmar" fill="#ffffcc" d="M572.5,282L574,279L575,276L576,274L577,271L578.5,267L580,265L583,269L583,273L585,276L587.5,279L590,281L592,282L590.5,284L590,285L588.5,285.5L586.5,287L585,288.5L585,291L586,293L585,294.5L586.5,296.5L587.8,299L588.8,302L589.5,305L590.5,307.5L590,310L589,308.5L588.2,305.5L587.2,302.5L586.2,299.5L585,297L583.5,295L582,296.2L580,296.8L578.5,296L577.5,294L576.5,291L575,288L573.5,285Z"/>
<path aria-label="Thailand" fill="#7fcdbb" d="M585,288.5L586.5,287L588.5,285.5L590,285L591.5,287L593,290L593.2,291.5L596,291L598.5,290.5L600.5,292L602.5,294.5L603.5,297.5L603.5,300.5L601,300.2L599,301L597.5,302.5L597,305L595,304.5L593.5,303.5L592,304L591.2,306L590.8,308L591.2,310L592,314L593.5,316.5L594.5,319L596,320.5L594,320.8L592.5,319.5L591,317.5L589.5,316L588.8,314.5L589,313L589,313L589.5,310.5L590,308L589.5,305L588.8,302L587.8,299L586.5,296.5L585,294.5L586,293L585,291Z"/>
<path aria-label="Laos" fill="#ffffcc" d="M590,285L591.2,283L593,280L594.5,281.5L596,283L597.5,284L599.5,284.5L600,286.5L599,288L600.5,289.5L602.5,291.5L604.5,294L606.5,296.5L608,299L608.5,301L607,301.5L605,301L603.5,300.5L603.5,297.5L602.5,294.5L600.5,292L598.5,290.5L596,291L593.2,291.5L593,290L591.5,287Z"/>
<path aria-label="Vietnam" fill="#41b6c4" d="M594.5,279.5L596,278.5L598.5,278L601,277.5L603.5,279.5L605.5,281.5L607,282.5L605,284L603.5,285.5L602.5,287.5L603.5,289.5L605.5,291.5L607.5,294L609.5,296L611.5,299L612.8,302L613.5,305L613.2,307.8L611.5,309.5L609.5,311L607.5,312.5L606,314L605,315.5L604,314.5L603.8,312.5L603.5,310.5L605.5,309.5L607.5,308L609,306L609.2,303.5L608.5,301L608,299L606.5,296.5L604.5,294L602.5,291.5L600.5,289.5L599,288L600,286.5L599.5,284.5L597.5,284L596,283L594.5,281.5Z"/>
<path aria-label="Cambodia" fill="#ffffcc" d="M597.5,302.5L599,301L601,300.2L603.5,300.5L605,301L607,301.5L608.5,301L609.2,303.5L609,306L607.5,308L605.5,309.5L603.5,310.5L601.5,310L599.5,308.5L598,306.5L597.5,304.5Z"/>
<path aria-label="Taiwan" fill="url(#hatch)" stroke="#c4c4c4" d="M634,273L635.5,272L636.8,273L637,275.5L636.2,278.5L635.2,280.5L634.2,279L633.5,276Z"/>
<path aria-label="Philippines" fill="#c7e9b4" d="M637.2,290.5L639,289.5L641,290L642,292.5L641.5,295.5L640.5,298L641.5,300L643.5,301.2L646,302L648,304L650,306L650,308L648,307.5L645.5,306L643,304.5L641,303.5L639.5,302L638.5,300L637.8,297L636.8,294ZM639,302.5L640.5,303L641.5,305L640,305.5L639,304ZM632.2,316.2L634,314L636,311L637.5,308.5L638,309.2L636.8,311.5L635,314L633.5,316.2ZM642.5,307.5L644.5,308L646.5,309.5L648,311L647,312L645,311L643,310ZM649,308.5L650.5,309L651.5,311L651,313L650,312L649.2,310ZM644,317.5L646,316.5L649,315.5L651,313.5L652.5,313L653.8,315L654.5,318L654,321L652.5,323L650.5,322.5L649,320.8L647,320L645,319.5Z"/>
<path aria-label="Morocco" fill="#ffffcc" d="M350,246L355,245L359,246L361,251L360,255L355,258L350,260L346,262L343,265L335,266.4L337,263L340,260L342,256L345,251L348,248Z"/>
<path aria-label="Western Sahara" fill="url(#hatch)" stroke="#c4c4c4" d="M335,266.4L343,265L344,268L339,269L337,276L333,282.4L325,282.4L327,278L331,272L334,268Z"/>
<path aria-label="Algeria" fill="url(#hatch)" stroke="#c4c4c4" d="M359,246L366,243L374,241.6L380,242L382,246L381,251L383,255L384.4,262L385.6,270L389,277L384,280L378,284L372,288L369,287L360,280L350,273L344,269L343,265L346,262L350,260L355,258L360,255L361,251Z"/>
<path aria-label="Tunisia" fill="url(#hatch)" stroke="#c4c4c4" d="M380,242L383.6,241L385,245L383.6,249L385.6,252L383,255L381,251L382,246Z"/>
<path aria-label="Libya" fill="url(#hatch)" stroke="#c4c4c4" d="M383,255L386,252L391,253L397,256L402,258L406,255L412,254L418,256L419,262L419,280L419,285.6L414,285L400,278L397,278L389,277L385.6,270L384.4,262Z"/>
<path aria-label="Egypt" fill="#ffffcc" d="M418,256L424,256.4L432,255.6L438,257L439,256.5L439.8,258.5L440.5,260.5L440,263L439,265L437.5,263L435.5,260.5L435,261.5L437,265L439,268.5L441,272L443,275L445,278.5L445.8,280.5L419,280.4L419,262Z"/>
<path aria-label="Mauritania" fill="#ffffcc" d="M325,282.8L333.5,282.8L333.5,280L337,276L339,269L344,268L344,270L350,274L349.6,286L350,289.5L350.5,297.5L345,297.8L340,298.5L336,299L333.5,296.5L331,294.8L329,294.5L326.5,296L325.5,293L325,289L324.5,285Z"/>
<path aria-label="Mali" fill="url(#hatch)" stroke="#c4c4c4" d="M344,270L360,280L369,287L372.5,288L372,293L371.5,296.5L368,298L363,299L361,298.5L358,300.5L355,302.5L352.5,305L351,308.5L350.5,311L347,311.5L344,312L343.5,309L342,306.5L339,306.2L336.2,305.5L336,304L335.5,301.5L335,299L340,298.5L345,297.8L350.5,297.5L350,289.5L349.6,286L350,274Z"/>
<path aria-label="Senegal" fill="#ffffcc" d="M323,299.5L324.5,297L326.5,296L329,294.5L331,294.8L333.5,296.5L335,299L335.5,301.5L336,304L336.2,305.5L330,305.7L325,305.8L324.5,304L324.2,301.5Z"/>
<path aria-label="Gambia" fill="url(#hatch)" stroke="#c4c4c4" d="M324.5,302.6L328,302.4L331,303L331,303.6L328,303.2L324.5,303.4Z"/>
<path aria-label="Guinea-Bissau" fill="url(#hatch)" stroke="#c4c4c4" d="M325,305.8L330,305.7L329.5,307.5L327.5,309L325.8,308Z"/>
<path aria-label="Guinea" fill="url(#hatch)" stroke="#c4c4c4" d="M327.5,309L329.5,307.5L330,305.7L336.2,305.5L339,306.2L342,306.5L343.5,309L344,312L343,314.5L341.5,317.5L340,318.5L338.5,316.5L337,313.5L335,312L333.5,312.5L332,314.5L330,312L328.5,310.5Z"/>
<path aria-label="Sierra Leone" fill="url(#hatch)" stroke="#c4c4c4" d="M332,314.5L333.5,312.5L335,312L337,313.5L338.5,316.5L336.5,318.5L334.5,317.5L333,316.2Z"/>
<path aria-label="Liberia" fill="url(#hatch)" stroke="#c4c4c4" d="M336.5,318.5L338.5,316.5L340,318.5L341.5,317.5L343.5,320.5L345,324L345.5,326.5L343,325.5L340.5,323.5L338.5,321.5Z"/>
<path aria-label="Cote d&#39;Ivoire" fill="url(#hatch)" stroke="#c4c4c4" d="M343,314.5L344,312L347,311.5L351,312.2L356.2,312L356.5,315L356,319L356.5,323L357,325L353,325.5L349,326L345.5,326.5L345,324L343.5,320.5L341.5,317.5Z"/>
<path aria-label="Burkina Faso" fill="#ffffcc" d="M351,308.5L352.5,305L355,302.5L358,300.5L361,298.5L363,299L364.5,302L366,304.5L369,306.5L368,308L365,309.5L361,309.2L356.5,309.5L356.2,312L351,312.2L350.5,311Z"/>
<path aria-label="Ghana" fill="url(#hatch)" stroke="#c4c4c4" d="M356.2,312L356.5,309.5L361,309.2L364,309.5L364.2,313L364.5,317L365,321L364.5,322.5L361,324L357,325L356.5,323L356,319L356.5,315Z"/>
<path aria-label="Togo" fill="#ffffcc" d="M364,309.5L365,309.5L366.2,312L366.8,315L367,321.5L365,322L364.5,317L364.2,313Z"/>
<path aria-label="Benin" fill="#ffffcc" d="M365,309.5L368,308L369.5,306.8L370.8,309L370.5,312L369.8,315L369.5,318L369.5,321.2L367,321.5L366.8,315L366.2,312Z"/>
<path aria-label="Nigeria" fill="#c7e9b4" d="M369.5,306.8L371.5,304L373.5,302.2L377,302.5L380,303.5L383,304.5L387,303.8L391,303.2L394,303L395.8,305.5L395,308.5L393.5,311.5L392,314.5L390.5,317.5L389.5,320L387,320L385,322.5L383,325.5L380,326.8L377,326.5L375.5,324L374,322L371.5,321.2L369.5,321.2L369.5,318L369.8,315L370.5,312L370.8,309Z"/>
<path aria-label="Niger" fill="#ffffcc" d="M363,299L368,298L371.5,296.5L372,293L372.5,288L378,284L384,280L389,277L397,278L398,286L397.6,292L395,298L396,303L394,303L391,303.2L387,303.8L383,304.5L380,303.5L377,302.5L373.5,302.2L371.5,304L369.5,306.8L369,306.5L366,304.5L364.5,302Z"/>
<path aria-label="Chad" fill="url(#hatch)" stroke="#c4c4c4" d="M397,278L400,278L414,285L419,285.6L418,292L415,298L416,306L413,310L409,313L404,315L400,318L397,320L396.4,317L397,314L398,311L397,308L396.2,305L396,303L395,298L397.6,292L398,286Z"/>
<path aria-label="Central African Republic" fill="url(#hatch)" stroke="#c4c4c4" d="M397,320L400,318L404,315L409,313L413,310L416,306L419,311L422,314L427,318L431,322L426,324L420,323L415,324L410,325L406,328L403,330L400,332L398,329L396.4,325Z"/>
<path aria-label="Sudan" fill="url(#hatch)" stroke="#c4c4c4" d="M419,280.4L446,280.4L446.5,283L447.5,286L448.2,289L449,291.5L447.5,292.5L446.8,296L446.5,299L447.5,300.5L446,303L444.5,306L443.5,309L441,309L438,307L435,310L431,311L426,309L422,307L419,311L416,306L415,298L418,292L419,285.6Z"/>
<path aria-label="Cameroon" fill="url(#hatch)" stroke="#c4c4c4" d="M383,326.5L385,322L387,320.5L390,319L392,316L394,312L395.5,308L396.2,305L397,308L398,311L397,314L396.5,317L397,320L396.5,325L398,329L400,332L397,332.5L393,333L389.5,332.5L385,332.5L384.5,329.5Z"/>
<path aria-label="Equatorial Guinea" fill="url(#hatch)" stroke="#c4c4c4" d="M385,332.5L389.5,332.5L389,335L385,335Z"/>
<path aria-label="Gabon" fill="url(#hatch)" stroke="#c4c4c4" d="M385,335L389,335L389.5,332.5L393,333L394,336L395.5,338.5L396.2,341.5L395,344L392.5,345.5L390,347L389,349.5L387,347L385,344L383.5,340L384,337Z"/>
<path aria-label="Congo" fill="#ffffcc" d="M393,333L397,332.5L400,332L402,329L405.5,328.5L405,334L404.5,338L402.5,341L400.5,343.5L399.5,347L398,349.5L395,350L391.5,351L389,349.5L390,347L392.5,345.5L395,344L396.2,341.5L395.5,338.5L394,336Z"/>
<path aria-label="Uganda" fill="#ffffcc" d="M434,329L440,328.5L442.2,328L443.5,330L444,333L442,337L441.5,340L435,340.5L432.5,341L431.2,338L432,334.5L433.5,332Z"/>
<path aria-label="Rwanda" fill="url(#hatch)" stroke="#c4c4c4" d="M430.5,342L432.5,341L434,342L434,344.5L431.5,345L430.2,344Z"/>
<path aria-label="Burundi" fill="#ffffcc" d="M431,345.5L434,344.8L434.2,347.5L433,349L431.2,348.5Z"/>
<path aria-label="South Sudan" fill="url(#hatch)" stroke="#c4c4c4" d="M419,311L422,307L426,309L431,311L435,310L438,307L441,309L440,314L443,320L447,325L443,328L438,328L434,327L431,322L427,318L422,314Z"/>
<path aria-label="Ethiopia" fill="#ffffcc" d="M447.5,300.5L449.5,299.8L451.5,300.5L454,301.8L456.5,303.5L458.5,305.5L459,306.5L459.5,308.5L461,309.5L463,312L465.5,314L469,316L472,317.2L470.5,319.5L468,322L465,324.5L462,326L459,327L456,327.5L453,328L450.5,327.5L448.5,326L446,324.5L444.5,322L442.5,319.5L440,317L441,314.5L443,312L443.5,309L444.5,306L446,303Z"/>
<path aria-label="Eritrea" fill="url(#hatch)" stroke="#c4c4c4" d="M447.5,292.5L449.5,291.8L451.2,293.5L452.5,296.2L454.5,298.5L457,301L459.5,304L461,305.5L460,306.2L458.5,305.5L456.5,303.5L454,301.8L451.5,300.5L449.5,299.8L447.5,300.5L446.5,299L446.8,296Z"/>
<path aria-label="Djibouti" fill="url(#hatch)" stroke="#c4c4c4" d="M459,306.5L461,305.5L462,307.5L461,309L459.5,308.5Z"/>
<path aria-label="Somalia" fill="url(#hatch)" stroke="#c4c4c4" d="M461,309L462,307.5L465,307L469,306.5L473,306L477,305.5L479.8,306.2L479.5,309L478.5,313L476.5,317.5L474,321.5L471,325.5L468,329L465,333L462.5,337L461,340L458.5,338L458,330L459,327L462,326L465,324.5L468,322L470.5,319.5L472,317.2L469,316L465.5,314L463,312Z"/>
<path aria-label="Kenya" fill="#ffffcc" d="M443,328L447,325L448,327L453,328.4L458,328L458,342L455,346L456,344L452.4,346L448,343L442,340L441.6,338L443,333Z"/>
<path aria-label="Democratic Republic of Congo" fill="#ffffcc" d="M406,328L410,325L415,324L420,323L426,324L431,322L434,327L433,331L432,335L433,339L431,342L430.6,348L432,350L430.4,355L431,360L428.4,362L429,368L431,371L430,372L427,369L422,368L418,367L413.6,366L412.4,360L409,357L403,358L399,355L395,354L391.6,353L390.4,350L394,348.4L398,346L402,343L404,339L405.6,333Z"/>
<path aria-label="Angola" fill="url(#hatch)" stroke="#c4c4c4" d="M391,353L395,354L399,355L403,358L409,357L412.4,360L413.6,366L418,367L417,372L413.6,373L413,378L414.4,384L410,384.4L400,383.6L395,383L390,383L389.6,378L392,372L393.6,366L392.4,360L391.6,356Z"/>
<path aria-label="Zambia" fill="#ffffcc" d="M413.6,373L417,372L418,367L422,368L427,369L430,372L431,371L429,368L428.4,362L431,360L435,360.4L439,362L441,366L440,371L437,375L432,377L428,380L424,383.6L420,384.4L416,383.6L414.4,384L413,378Z"/>
<path aria-label="Tanzania" fill="#ffffcc" d="M433,339L438,339L441.6,338L442,340L448,343L452.4,346L453.6,350L453,356L454,362L455,366L449,367.6L443,368L441,366L439,362L435,360.4L431,360L430.4,355L432,350L431,346L433.6,348.4L434,344.4L433.6,341Z"/>
<path aria-label="Malawi" fill="#ffffcc" d="M439,362L441,363L442,368L443,373L445,377L444,381L442,380L441,375L439.6,370L440,366Z"/>
<path aria-label="Mozambique" fill="#ffffcc" d="M443,368L449,367.6L455,366L456,372L455.6,378L452,383L447,387L443,391L442,395L443.6,399L442.4,403L439,405L436,407L435.6,409L434.4,406L434.4,400L435,395L437.6,391L437,385L437,381L434,378L432,377L437,375L440,371L441,375L442,380L444,381L445,377L443,373Z"/>
<path aria-label="Zimbabwe" fill="#ffffcc" d="M424,383.6L428,380L432,377L434,378L437,381L437,385L437.6,391L435,395L431,396L427,394L424,390L421,386Z"/>
<path aria-label="Botswana" fill="#ffffcc" d="M410,386L414.4,384L416,383.6L420,384.4L421,386L424,390L427,394L431,396L428,399L424,402L421,405.6L417,405L413,406L410,408.4L408,405L408,398L409,392Z"/>
<path aria-label="Namibia" fill="#ffffcc" d="M390,383L395,383L400,383.6L410,384.4L414.4,384L410,386L409,392L408,398L408,405L407,412L403,413.6L400,412L397,406L395,399L393,392L391,387Z"/>
<path aria-label="South Africa" fill="#c7e9b4" d="M400,412L403,413.6L407,412L408,405L410,408.4L413,406L417,405L421,405.6L424,402L428,399L431,396L435,395L434.4,400L434.4,406L435.6,409L433.6,414L430,418L426,421.6L421,425L415,426.4L410,427L405,428.4L402.4,426L403,422L401,417Z"/>
<path aria-label="Lesotho" fill="#ffffcc" d="M422.4,416L425.6,413L428.4,415L425.6,418.4Z"/>
<path aria-label="Eswatini" fill="#ffffcc" d="M431.6,406L433.6,405L434.4,408L432.4,409Z"/>
<path aria-label="Madagascar" fill="#ffffcc" d="M475,370L477,371L478.4,378L476,384L474,390L471.6,397L469,403L465,405L461.6,402L460.4,397L462,391L463,384L466,380L470,377L473,373Z"/>
<path aria-label="Indonesia" fill="#7fcdbb" d="M657,333L659,332.4L660,336L659,340L657.6,339ZM653.6,346.4L656,346L657,347.6L654.4,348ZM658,345.6L662,345.6L665,347L662,348L659,347.2ZM671.6,353L673.2,352.4L673.2,355.6L671.6,355.2ZM664.4,340.4L669,339L672.4,340.4L673,344L676,346L680,343L684,342L688.4,345L688,353L687.6,361L684,360L680.4,358L680,354.4L679,351L674,349L671,348L669,345.6L667,343ZM582.5,324L585,323.8L588,324.5L590,326.5L592.5,329L595,331L597,332.8L599.5,334.5L601.5,336.2L602,338.5L603.5,341L605.5,343.5L607.2,345.5L607.8,348L607.5,351L606.8,353.2L605,353.5L602.5,351.5L600.5,349.5L598.5,347.5L596.5,345L595,342.5L593.5,339.5L592,336.5L590.5,334L588.5,331.5L586.5,329L584.5,326.5ZM605.8,354.5L607.5,353.2L610,353.8L612.5,354.8L615,355.8L617.5,355.5L620,355.2L622,356.5L624.5,358L627,358.5L628.8,359.5L627.5,360.8L625,360.5L622,359.8L619,359.2L616,358.8L613,358.2L610,357.5L607.5,356.5ZM631.2,360.8L633.5,359.5L635.5,359.2L636.8,360L635,361L633,361.8ZM639,360L641.5,359.5L644,359.8L645.8,359L645,360.5L642.5,361L640,361ZM636.8,362.8L639,363L640.5,364.5L639,364.8L637.2,364ZM646.2,364L648,362.5L650,361.2L651.2,361.8L649.5,363.5L647.5,364.8ZM614.5,334.5L616,333.5L618,332.5L619.5,331L622,330L624.5,328.5L626.5,326.5L628.5,324.5L630,322L631.5,320.2L633.2,320L634.5,321.8L636,323L637.8,324.2L636.8,325.8L635,326.5L634,328.5L634.5,331L635.5,333.5L636.8,335L635.5,336.2L634,338.5L632.8,341L631.8,344L631,347L630,348.5L628,348L626,346.8L624,346.5L622,346L619.5,345.8L617.5,345.5L616.8,343.5L615.5,341L614.5,338ZM639,336.5L641,335L644,334.8L647.5,335L650.5,334.2L652,334L651.5,335.5L649.5,336.5L646.5,337L643.5,337.2L641.5,338L640.5,340L642,340.5L644.5,340L647,339.8L647.8,340.5L646,341.5L644,342.2L643.2,344L644.5,346.5L646,349L647,351L646,352.5L644.5,351L643,348.5L641.8,346L641.2,348.5L641,351L640,352.8L638.5,352.5L638.2,349.5L638,346.5L637.2,344.5L637.8,341.5L638.2,339Z"/>
<path aria-label="Papua New Guinea" fill="url(#hatch)" stroke="#c4c4c4" d="M688.4,345L693,347L697,350L700,353L703,356L705,360L708,364L709,366L705,365L701,362.4L698,360L694,361L690,362.4L687.6,361L688,353ZM704.4,353L708,352.4L712,350L715,347L715.6,349L713,352L709,354.4L705.6,354.4Z"/>
<path aria-label="Solomon Islands" fill="url(#hatch)" stroke="#c4c4c4" d="M719,352L723,355L728,359L732,362L735,365.6L733,366L729,362.4L724,358.4L720,354.4Z"/>
<path aria-label="Vanuatu" fill="url(#hatch)" stroke="#c4c4c4" d="M743.6,376L745,378L745.6,381L744,380.4Z"/>
<path aria-label="New Caledonia" fill="url(#hatch)" stroke="#c4c4c4" d="M734.4,390.4L737,392L740,395.6L738.4,396.4L735.6,394Z"/>
<path aria-label="Australia" fill="#7fcdbb" d="M614.4,427L616,422L617,414L618,406L620,398L621,395L626,392.4L632,390.4L638,388.4L642.4,383.6L646,380L650,376L654,374.4L657,375.6L660,372L663,369L667,367L672,369L676,370L674,373.6L673,377L677,380L682,384L685,381L686.4,376L687.6,371L689.6,366L691,370L692.4,375L694.4,378L695.6,384L698,389L700,390L702,395L705,400L706,405L705,410L703,415L700,420L696,425L692,429L688,433L684,436.4L680,438L676,439.6L673,438L670,439L666,438L664,435L665,431L663,428L660,429L662,426L660,424L658,422L654,421L649,420.4L644,421.6L639,423L634,426L630,427L623,428.4L618,429.6ZM667,451L669.6,444.4L673,444L677,445L675.6,448L673,450L670,451.6Z"/>
<path aria-label="New Zealand" fill="#ffffcc" d="M739,428.4L740.4,428L741.6,431L742,434L744.4,436L747,436.4L745,439L742,441L739.6,443L737,445L734,446.4L732,445.6L733.6,442.4L736,440L738,437L739,433ZM705.6,457.6L709,455L714,453L719,450.4L723.6,448L727,445.6L729.6,444.4L730.4,447L728,449.6L724,451.6L720,453.6L716,456L712,458.4L708,459.6Z"/>
<path aria-label="Malaysia" fill="#7fcdbb" d="M594,320.8L596,320.5L598,321.5L599.5,323L601,325.5L601.8,328.5L602.2,331L603.5,333L603.8,334.5L602,335L600,333.5L598,331.5L596.2,329.5L595,327L594.2,324.5L593.8,322ZM616,333.5L618,332.5L619.5,331L622,330L624.5,328.5L626.5,326.5L628.5,324.5L630,322L631.5,320.2L633.2,320L634.5,321.8L636,323L637.8,324.2L636.8,325.8L635,326.5L633,326.5L631,327L630,328.5L629,331L627.5,333.5L625.5,334L623,333.8L621,334.8L619,335.5L617,335Z"/>
<path aria-label="East Timor" fill="url(#hatch)" stroke="#c4c4c4" d="M651,360.5L653.5,359.8L654.8,360.5L652.5,361.5Z"/>
<path aria-label="Brunei" fill="#ffffcc" d="M626.5,326L627.5,324.8L628.8,325L628.5,326.5L627.2,327Z"/>
<path aria-label="Fiji" fill="#ffffcc" d="M766,384L768,382.4L769.6,384L768,386ZM770,381L773,379.6L774,380.8L771,382Z"/>
</g>
<g>
<rect x="161.5" y="537.5" width="47" height="11" fill="url(#hatch2)" stroke="#bbb" stroke-width="0.8"/>
<line x1="185" y1="534.5" x2="185" y2="537.5" stroke="#bbb" stroke-width="0.7"/>
<text x="161" y="529.6">No data</text>
<rect x="228.5" y="537.5" width="76.7" height="11" fill="#ffffcc" stroke="#999" stroke-width="0.6"/>
<rect x="305.2" y="537.5" width="76.7" height="11" fill="#c7e9b4" stroke="#999" stroke-width="0.6"/>
<rect x="381.9" y="537.5" width="76.7" height="11" fill="#7fcdbb" stroke="#999" stroke-width="0.6"/>
<rect x="458.6" y="537.5" width="76.7" height="11" fill="#41b6c4" stroke="#999" stroke-width="0.6"/>
<rect x="535.3" y="537.5" width="76.7" height="11" fill="#2c7fb8" stroke="#999" stroke-width="0.6"/>
<path d="M612,537.5H683.5L688.5,543L683.5,548.5H612Z" fill="#253494" stroke="#253494" stroke-width="0.6"/>
<line x1="228.5" y1="534.5" x2="228.5" y2="537.5" stroke="#999" stroke-width="0.6"/>
<text x="228.5" y="529.6" text-anchor="middle">$0</text>
<line x1="305.2" y1="534.5" x2="305.2" y2="537.5" stroke="#999" stroke-width="0.6"/>
<text x="305.2" y="529.6" text-anchor="middle">$5 billion</text>
<line x1="381.9" y1="534.5" x2="381.9" y2="537.5" stroke="#999" stroke-width="0.6"/>
<text x="381.9" y="529.6" text-anchor="middle">$10 billion</text>
<line x1="458.6" y1="534.5" x2="458.6" y2="537.5" stroke="#999" stroke-width="0.6"/>
<text x="458.6" y="529.6" text-anchor="middle">$25 billion</text>
<line x1="535.3" y1="534.5" x2="535.3" y2="537.5" stroke="#999" stroke-width="0.6"/>
<text x="535.3" y="529.6" text-anchor="middle">$50 billion</text>
<line x1="612" y1="534.5" x2="612" y2="537.5" stroke="#999" stroke-width="0.6"/>
<text x="612" y="529.6" text-anchor="middle">$100 billion</text>
</g>
</svg>
<div id="src"><b>Data source:</b> UN Statistics Division</div>
<div id="url">OurWorldinData.org/technological-change | CC BY</div>
</body>
</html>
